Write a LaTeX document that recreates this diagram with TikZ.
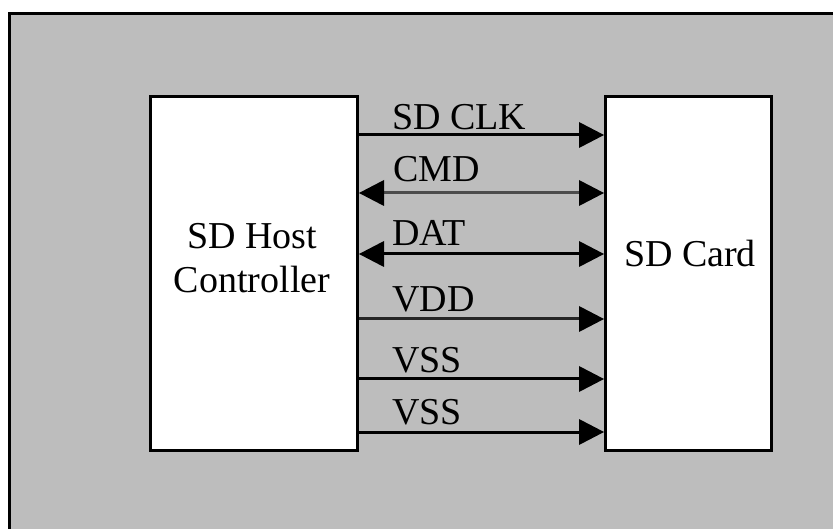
\documentclass[tikz,border=0pt]{standalone}
\usepackage{fontspec}
\setmainfont{Liberation Serif}
\usetikzlibrary{arrows.meta}
\definecolor{bg}{HTML}{BDBDBD}
\begin{document}
\begin{tikzpicture}[x=1pt,y=-1pt,
 box/.style={draw=black, line width=3pt, fill=white, inner sep=0pt},
 lbl/.style={anchor=base west, inner sep=0pt, font=\fontsize{38}{44}\selectfont},
 txt/.style={anchor=base, inner sep=0pt, font=\fontsize{38}{44}\selectfont},
 tipA/.tip={Triangle[length=25pt,width=26pt,line width=0pt,color=black]},
 sig/.style={line width=3pt, -tipA},
 bidir/.style={line width=3pt, tipA-tipA}]
\useasboundingbox (0,0) rectangle (833,529);
\begin{scope}
\clip (0,0) rectangle (833,529);
\draw[fill=bg, line width=3pt] (9.5,13.5) rectangle (850,550);
\end{scope}
\node[box, minimum width=207pt, minimum height=354pt] (host) at (254,273.5) {};
\node[box, minimum width=166pt, minimum height=354pt] (card) at (688.5,273.5) {};
\node[txt] (hostA) at (252,249) {SD Host};
\node[txt] (hostB) at (252,293) {Controller};
\node[txt] (cardT) at (690,267) {SD Card};
\node[lbl] (lclk) at (392,130) {SD CLK};
\node[lbl] (lcmd) at (393,182) {CMD};
\node[lbl] (ldat) at (392,246) {DAT};
\node[lbl] (lvdd) at (392,312) {VDD};
\node[lbl] (lvss1) at (392,373) {VSS};
\node[lbl] (lvss2) at (392,424) {VSS};
\draw[sig] (host.east |- 0,135) -- (card.west |- 0,135);
\draw[bidir, draw=black!70] (host.east |- 0,193) -- (card.west |- 0,193);
\draw[bidir] (host.east |- 0,254) -- (card.west |- 0,254);
\draw[sig, draw=black!85] (host.east |- 0,319) -- (card.west |- 0,319);
\draw[sig] (host.east |- 0,379) -- (card.west |- 0,379);
\draw[sig] (host.east |- 0,432) -- (card.west |- 0,432);
\end{tikzpicture}
\end{document}
